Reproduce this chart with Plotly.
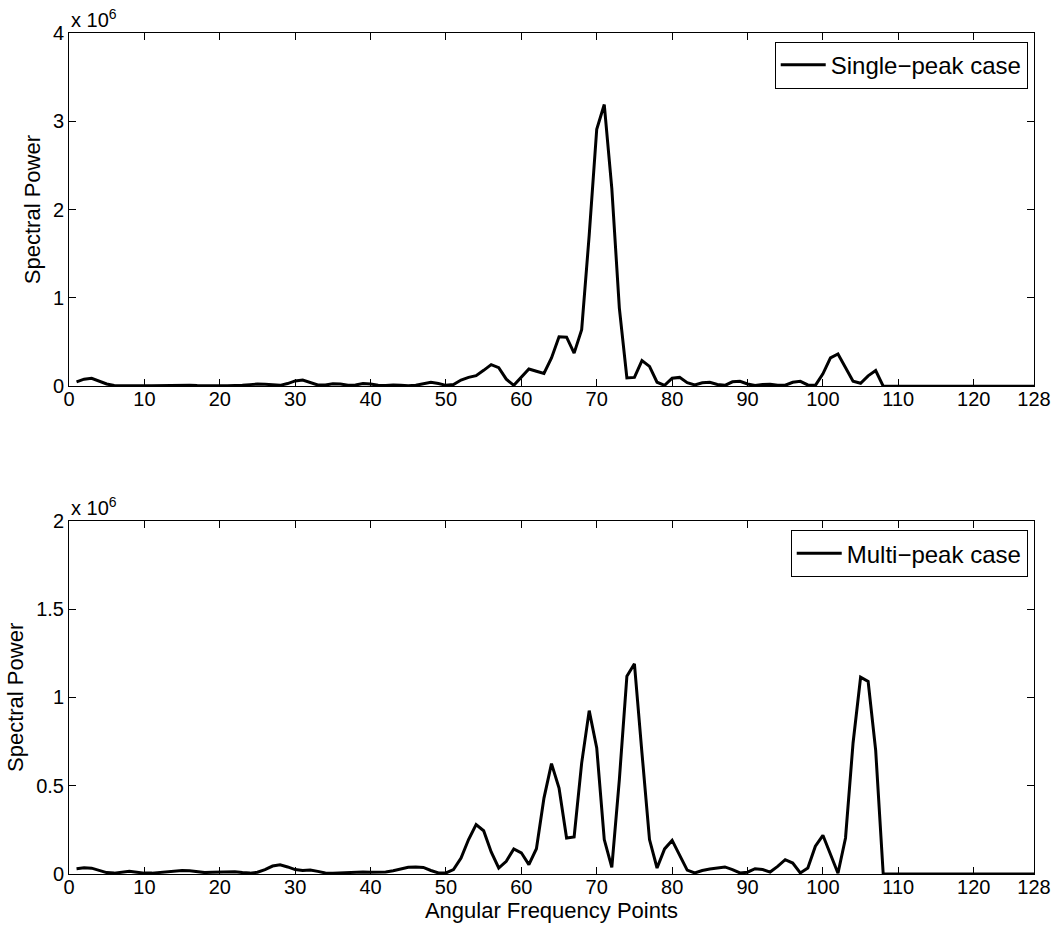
import plotly.graph_objects as go

# frequency point index 1..128
freq_points = list(range(1, 129))

# spectral power in units of 1e6
single_peak = [
    0.05, 0.08, 0.09, 0.06, 0.025, 0.008, 0.005, 0.004, 0.004, 0.004,
    0.005, 0.006, 0.008, 0.012, 0.015, 0.012, 0.008, 0.005, 0.004, 0.004,
    0.005, 0.006, 0.01, 0.018, 0.025, 0.022, 0.012, 0.01, 0.03, 0.06,
    0.07, 0.045, 0.015, 0.015, 0.028, 0.025, 0.01, 0.015, 0.03, 0.025,
    0.01, 0.008, 0.015, 0.01, 0.005, 0.012, 0.03, 0.045, 0.03, 0.01,
    0.02, 0.07, 0.1, 0.12, 0.18, 0.245, 0.21, 0.08, 0.01, 0.1,
    0.195, 0.17, 0.145, 0.32, 0.56, 0.555, 0.375, 0.64, 1.71, 2.91,
    3.19, 2.24, 0.885, 0.094, 0.1, 0.29, 0.225, 0.045, 0.01, 0.09,
    0.1, 0.04, 0.015, 0.04, 0.045, 0.02, 0.01, 0.05, 0.055, 0.025,
    0.008, 0.02, 0.022, 0.01, 0.012, 0.045, 0.055, 0.015, 0.01, 0.14,
    0.32, 0.365, 0.21, 0.057, 0.034, 0.117, 0.177, 0.0, 0.0, 0.0,
    0.0, 0.0, 0.0, 0.0, 0.0, 0.0, 0.0, 0.0, 0.0, 0.0,
    0.0, 0.0, 0.0, 0.0, 0.0, 0.0, 0.0, 0.0,
]

multi_peak = [
    0.03, 0.035, 0.033, 0.02, 0.008, 0.005, 0.01, 0.015, 0.01, 0.005,
    0.005, 0.008, 0.012, 0.017, 0.02, 0.018, 0.012, 0.008, 0.01, 0.012,
    0.014, 0.013, 0.008, 0.005, 0.01, 0.025, 0.045, 0.052, 0.04, 0.025,
    0.02, 0.022, 0.015, 0.006, 0.004, 0.006, 0.01, 0.012, 0.012, 0.01,
    0.01, 0.012, 0.018, 0.03, 0.038, 0.04, 0.037, 0.02, 0.006, 0.006,
    0.025, 0.09, 0.195, 0.28, 0.245, 0.125, 0.034, 0.072, 0.142, 0.12,
    0.053, 0.143, 0.43, 0.625, 0.487, 0.204, 0.21, 0.628, 0.925, 0.714,
    0.195, 0.038, 0.535, 1.12, 1.19, 0.685, 0.195, 0.034, 0.142, 0.19,
    0.11, 0.022, 0.006, 0.02, 0.028, 0.036, 0.04, 0.025, 0.006, 0.01,
    0.03, 0.025, 0.011, 0.043, 0.081, 0.062, 0.006, 0.034, 0.157, 0.219,
    0.11, 0.004, 0.204, 0.742, 1.114, 1.09, 0.7, 0.0, 0.0, 0.0,
    0.0, 0.0, 0.0, 0.0, 0.0, 0.0, 0.0, 0.0, 0.0, 0.0,
    0.0, 0.0, 0.0, 0.0, 0.0, 0.0, 0.0, 0.0,
]

x_ticks = [0, 10, 20, 30, 40, 50, 60, 70, 80, 90, 100, 110, 120, 128]
top_y_ticks = [0, 1, 2, 3, 4]
bottom_y_ticks = [0, 0.5, 1, 1.5, 2]

FONT = "Liberation Sans, Arial, Helvetica, sans-serif"

fig = go.Figure()
fig.add_trace(go.Scatter(x=freq_points, y=single_peak, mode="lines",
                         line=dict(color="black", width=3),
                         name="Single\u2212peak case", xaxis="x", yaxis="y",
                         legend="legend", showlegend=True))
fig.add_trace(go.Scatter(x=freq_points, y=multi_peak, mode="lines",
                         line=dict(color="black", width=3),
                         name="Multi\u2212peak case", xaxis="x2", yaxis="y2",
                         legend="legend2", showlegend=True))

axis_common = dict(showline=True, linecolor="black", linewidth=1, mirror="ticks",
                   ticks="inside", ticklen=7, tickcolor="black", showgrid=False,
                   zeroline=False, automargin=False,
                   tickfont=dict(size=20, color="black"))

fig.update_layout(
    width=1054, height=933,
    margin=dict(l=69, r=20, t=33, b=59),
    paper_bgcolor="white", plot_bgcolor="white",
    font=dict(family=FONT, color="black"),
    showlegend=True,
    xaxis=dict(domain=[0, 1], anchor="y", range=[0, 128], tickvals=x_ticks,
               ticklabelstandoff=-5, **axis_common),
    yaxis=dict(domain=[0.58, 1], anchor="x", range=[0, 4], tickvals=top_y_ticks,
               title=dict(text="Spectral Power", font=dict(size=22), standoff=6),
               **axis_common),
    xaxis2=dict(domain=[0, 1], anchor="y2", range=[0, 128], tickvals=x_ticks,
                ticklabelstandoff=-5,
                title=dict(text="Angular Frequency Points", font=dict(size=22), standoff=2),
                **axis_common),
    yaxis2=dict(domain=[0, 0.42], anchor="x2", range=[0, 2], tickvals=bottom_y_ticks,
                ticktext=["0", "0.5", "1", "1.5", "2"],
                title=dict(text="Spectral Power", font=dict(size=22), standoff=6),
                **axis_common),
    legend=dict(x=0.9935, y=0.9896, xanchor="right", yanchor="top",
                bordercolor="black", borderwidth=1, bgcolor="white",
                itemwidth=45, font=dict(size=24)),
    legend2=dict(x=0.9935, y=0.409, xanchor="right", yanchor="top",
                 bordercolor="black", borderwidth=1, bgcolor="white",
                 itemwidth=45, font=dict(size=24)),
    annotations=[
        dict(text="x 10<sup>6</sup>", xref="paper", yref="paper", x=0, y=1,
             xanchor="left", yanchor="bottom", showarrow=False,
             font=dict(size=20)),
        dict(text="x 10<sup>6</sup>", xref="paper", yref="paper", x=0, y=0.42,
             xanchor="left", yanchor="bottom", showarrow=False,
             font=dict(size=20)),
    ],
)

# the page body has a default 8px margin; drop it so the figure sits at the corner
fig.write_html("out.html", config={"displayModeBar": False},
               post_script="document.body.style.margin='0';")
